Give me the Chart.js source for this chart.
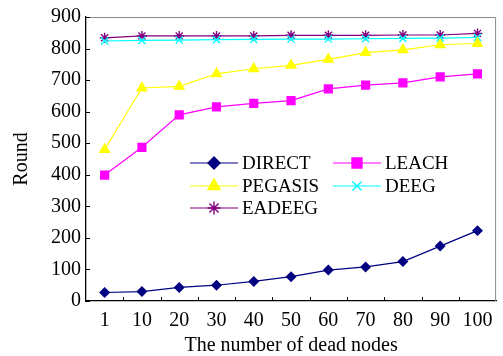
<!DOCTYPE html>
<html>
<head>
<meta charset="utf-8">
<script src="https://cdn.jsdelivr.net/npm/chart.js@4"></script>
<style>
  html, body { margin: 0; padding: 0; background: #fff; }
  #wrap { width: 503px; height: 356px; }
</style>
</head>
<body>
<div id="wrap"><canvas id="chart" width="503" height="356"></canvas></div>
<script>
// data
const nodes = ["1", "10", "20", "30", "40", "50", "60", "70", "80", "90", "100"];
const direct = [27, 30, 43, 50, 62, 77, 98, 108, 125, 174, 223];
const leach = [399, 487, 590, 615, 626, 635, 672, 684, 691, 710, 720];
const pegasis = [480, 675, 680, 720, 736, 747, 766, 787, 796, 812, 816];
const deeg = [824, 826, 827, 828, 829, 830, 830, 831, 832, 833, 835];
const eadeeg = [834, 840, 840, 840, 840, 842, 842, 842, 843, 843, 848];
const yTicks = [0, 100, 200, 300, 400, 500, 600, 700, 800, 900];

const serif = "'Liberation Serif', 'DejaVu Serif', serif";

function series(label, data, color, shape, size) {
  return {
    label: label,
    data: data,
    borderColor: color,
    backgroundColor: color,
    borderWidth: 1.2,
    pointStyle: shape,
    pointRadius: size,
    pointBorderWidth: 1.4,
    pointBorderColor: color,
    pointBackgroundColor: color,
    tension: 0
  };
}

// frame, inward ticks and the legend box
const extras = {
  id: "extras",
  afterDraw(chart) {
    const ctx = chart.ctx;
    const a = chart.chartArea;
    ctx.save();
    ctx.strokeStyle = "#888";
    ctx.lineWidth = 1;
    ctx.beginPath();
    ctx.moveTo(a.left, a.top + 0.5);
    ctx.lineTo(a.right - 0.5, a.top + 0.5);
    ctx.lineTo(a.right - 0.5, a.bottom);
    ctx.stroke();

    ctx.strokeStyle = "#000";
    const n = chart.data.labels.length;
    const step = (a.right - a.left) / n;
    ctx.beginPath();
    for (let i = 1; i < n; i++) {
      const x = Math.round(a.left + i * step) + 0.5;
      ctx.moveTo(x, a.bottom);
      ctx.lineTo(x, a.bottom - 4);
    }
    const ys = chart.scales.y;
    yTicks.forEach(v => {
      const y = Math.round(ys.getPixelForValue(v)) + 0.5;
      ctx.moveTo(a.left, y);
      ctx.lineTo(a.left + 4, y);
    });
    ctx.stroke();

    // legend: two columns, three rows
    const spots = [[190, 163], [333, 163], [190, 186], [333, 186], [190, 208]];
    ctx.font = "19px " + serif;
    ctx.textBaseline = "middle";
    chart.data.datasets.forEach((ds, i) => {
      const [x, y] = spots[i];
      ctx.strokeStyle = ds.borderColor;
      ctx.fillStyle = ds.backgroundColor;
      ctx.lineWidth = 1.2;
      ctx.beginPath();
      ctx.moveTo(x, y);
      ctx.lineTo(x + 48, y);
      ctx.stroke();
      ctx.lineWidth = 1.4;
      Chart.helpers.drawPoint(ctx, {
        pointStyle: ds.pointStyle,
        radius: ds.pointRadius + 1.5,
        borderWidth: 1.4,
        rotation: 0
      }, x + 24, y);
      ctx.fillStyle = "#000";
      ctx.fillText(ds.label, x + 52, y + 1);
    });
    ctx.restore();
  }
};

new Chart(document.getElementById("chart"), {
  type: "line",
  data: {
    labels: nodes,
    datasets: [
      series("DIRECT", direct, "#000080", "rectRot", 4.5),
      series("LEACH", leach, "#ff00ff", "rect", 5.5),
      series("PEGASIS", pegasis, "#ffff00", "triangle", 5.5),
      series("DEEG", deeg, "#00ffff", "crossRot", 5),
      series("EADEEG", eadeeg, "#800080", "star", 5)
    ]
  },
  options: {
    responsive: false,
    animation: false,
    layout: { padding: { top: 16, right: 3, left: 0, bottom: 0 } },
    plugins: {
      legend: { display: false },
      tooltip: { enabled: false }
    },
    scales: {
      x: {
        offset: true,
        afterFit(scale) { scale.height = 55; },
        grid: { display: false, drawTicks: false },
        border: { color: "#000", width: 1.3 },
        ticks: { color: "#000", padding: 8, maxRotation: 0, font: { family: serif, size: 20 } },
        title: { display: true, text: "The number of dead nodes", color: "#000", padding: 0, font: { family: serif, size: 20, lineHeight: 1 } }
      },
      y: {
        min: 0,
        max: 900,
        afterFit(scale) { scale.width = 86; },
        afterBuildTicks(scale) { scale.ticks = yTicks.map(v => ({ value: v })); },
        grid: { drawOnChartArea: false, drawTicks: false },
        border: { color: "#000", width: 1.3 },
        ticks: { color: "#000", padding: 5, font: { family: serif, size: 20 } },
        title: { display: true, text: "Round", color: "#000", padding: { top: 12, bottom: 0 }, font: { family: serif, size: 20, lineHeight: 1 } }
      }
    }
  },
  plugins: [extras]
});
</script>
</body>
</html>
